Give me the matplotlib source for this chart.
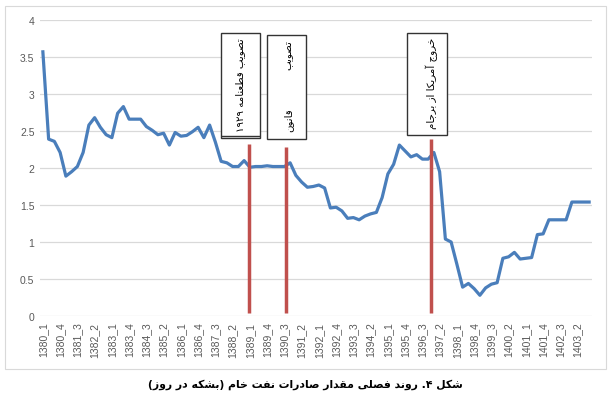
import numpy as np
import matplotlib
matplotlib.use("Agg")
import matplotlib.pyplot as plt
from matplotlib.patches import Rectangle
from matplotlib import font_manager
from matplotlib.ft2font import FT2Font

# داده‌ها: صادرات فصلی نفت خام (میلیون بشکه در روز)
years = list(range(1380, 1404))
quarters = [1, 2, 3, 4]
periods = [f"{y}_{q}" for y in years for q in quarters]

exports = [3.57, 2.39, 2.36, 2.21, 1.89, 1.95, 2.02, 2.21, 2.58, 2.68,
           2.55, 2.45, 2.41, 2.74, 2.83, 2.66, 2.66, 2.66, 2.56, 2.51,
           2.45, 2.47, 2.31, 2.48, 2.43, 2.44, 2.49, 2.55, 2.41, 2.58,
           2.35, 2.09, 2.07, 2.02, 2.02, 2.10, 2.01, 2.02, 2.02, 2.03,
           2.02, 2.02, 2.02, 2.07, 1.90, 1.81, 1.74, 1.75, 1.77, 1.73,
           1.46, 1.47, 1.42, 1.32, 1.33, 1.30, 1.35, 1.38, 1.40, 1.60,
           1.92, 2.05, 2.31, 2.23, 2.15, 2.18, 2.12, 2.12, 2.21, 1.95,
           1.04, 1.00, 0.70, 0.39, 0.44, 0.37, 0.28, 0.38, 0.43, 0.45,
           0.78, 0.80, 0.86, 0.77, 0.78, 0.79, 1.10, 1.11, 1.30, 1.30,
           1.30, 1.30, 1.54, 1.54, 1.54, 1.54]

# رویدادها (خطوط قرمز)
event_x = [35.8, 42.2, 67.5]
event_top = [2.32, 2.29, 2.39]

caption = "شکل ۴. روند فصلی مقدار صادرات نفت خام (بشکه در روز)"

# --- شکل‌دهی ساده حروف فارسی (matplotlib خودش انجام نمی‌دهد) ---
cmap = FT2Font(font_manager.findfont("DejaVu Sans")).get_charmap()
dual = {
    "ب": (0xFE8F, 0xFE90, 0xFE91, 0xFE92), "ت": (0xFE95, 0xFE96, 0xFE97, 0xFE98),
    "ج": (0xFE9D, 0xFE9E, 0xFE9F, 0xFEA0), "خ": (0xFEA5, 0xFEA6, 0xFEA7, 0xFEA8),
    "ش": (0xFEB5, 0xFEB6, 0xFEB7, 0xFEB8), "ص": (0xFEB9, 0xFEBA, 0xFEBB, 0xFEBC),
    "ط": (0xFEC1, 0xFEC2, 0xFEC3, 0xFEC4), "ع": (0xFEC9, 0xFECA, 0xFECB, 0xFECC),
    "ف": (0xFED1, 0xFED2, 0xFED3, 0xFED4), "ق": (0xFED5, 0xFED6, 0xFED7, 0xFED8),
    "ل": (0xFEDD, 0xFEDE, 0xFEDF, 0xFEE0), "م": (0xFEE1, 0xFEE2, 0xFEE3, 0xFEE4),
    "ن": (0xFEE5, 0xFEE6, 0xFEE7, 0xFEE8), "ه": (0xFEE9, 0xFEEA, 0xFEEB, 0xFEEC),
    "ی": (0xFEEF, 0xFEF0, 0xFEF3, 0xFEF4),
}
if all(c in cmap for c in (0xFB8E, 0xFB8F, 0xFB90, 0xFB91)):
    dual["ک"] = (0xFB8E, 0xFB8F, 0xFB90, 0xFB91)
else:
    dual["ک"] = (0xFED9, 0xFEDA, 0xFEDB, 0xFEDC)
right = {
    "ا": (0xFE8D, 0xFE8E), "آ": (0xFE81, 0xFE82), "د": (0xFEA9, 0xFEAA),
    "ر": (0xFEAD, 0xFEAE), "ز": (0xFEAF, 0xFEB0), "و": (0xFEED, 0xFEEE),
}


def fa(s):
    out = []
    for i, ch in enumerate(s):
        prev = s[i - 1] if i > 0 else ""
        nxt = s[i + 1] if i + 1 < len(s) else ""
        jp = prev in dual and (ch in dual or ch in right)
        if ch in dual:
            jn = nxt in dual or nxt in right
            f = dual[ch]
            out.append(chr(f[3] if jp and jn else f[1] if jp else f[2] if jn else f[0]))
        elif ch in right:
            out.append(chr(right[ch][1] if jp else right[ch][0]))
        else:
            out.append({"(": ")", ")": "("}.get(ch, ch))
    # ترتیب نمایش: راست به چپ، اعداد چپ به راست
    tokens, cur = [], ""
    for ch in out:
        if "\u06f0" <= ch <= "\u06f9":
            cur += ch
        else:
            if cur:
                tokens.append(cur)
                cur = ""
            tokens.append(ch)
    if cur:
        tokens.append(cur)
    return "".join(reversed(tokens))


plt.rcParams["font.family"] = ["Liberation Sans", "DejaVu Sans"]

fig = plt.figure(figsize=(6.13, 4.02), dpi=100)
fig.patches.append(Rectangle((5 / 613, 1 - 370 / 402), 601 / 613, 363 / 402,
                             transform=fig.transFigure, fill=False,
                             edgecolor="#D9D9D9", linewidth=0.8))
ax = fig.add_axes([40 / 613, 1 - 317 / 402, 552 / 613, 296 / 402])

x = np.arange(len(exports))
ax.plot(x, exports, color="#4A7EBB", linewidth=2.3, zorder=3)
ax.vlines(event_x, 0.04, event_top, color="#C0504D", linewidth=2.5, zorder=4)

ax.set_xlim(-0.5, len(exports) - 0.5)
ax.set_ylim(0, 4)
ax.set_yticks(np.arange(0, 4.01, 0.5))
ax.set_yticklabels(["0", "0.5", "1", "1.5", "2", "2.5", "3", "3.5", "4"])
ax.set_xticks(x[::3])
ax.set_xticklabels(periods[::3], rotation=90)
ax.tick_params(length=0, labelsize=7.5, colors="#595959", pad=4)
ax.grid(axis="y", color="#D9D9D9", linewidth=0.9)
ax.set_axisbelow(True)
for s in ax.spines.values():
    s.set_visible(False)

# جعبه‌های توضیح
boxes = [(31.04, 2.40, 6.76, 1.43), (38.98, 2.39, 6.82, 1.41), (63.4, 2.44, 6.9, 1.39)]
for bx, by, bw, bh in boxes:
    ax.add_patch(Rectangle((bx, by), bw, bh, facecolor="white",
                           edgecolor="#333333", linewidth=1.0, zorder=5))
ax.hlines(2.437, 31.04, 37.8, color="#333333", linewidth=1.0, zorder=6)

note_kw = dict(rotation=90, ha="center", fontsize=7.4, family="DejaVu Sans", zorder=7)
ax.text(34.34, 3.77, fa("تصویب قطعنامه ۱۹۲۹"), va="top", **note_kw)
ax.text(42.68, 3.74, fa("تصویب"), va="top", **note_kw)
ax.text(42.68, 2.50, fa("قانون"), va="bottom", **note_kw)
ax.text(67.64, 3.77, fa("خروج آمریکا از برجام"), va="top", **note_kw)

fig.text(305 / 613, 1 - 385 / 402, fa(caption), ha="center", va="center",
         fontsize=7.8, fontweight="bold", family="DejaVu Sans")

fig.savefig("out.png", dpi=100)
